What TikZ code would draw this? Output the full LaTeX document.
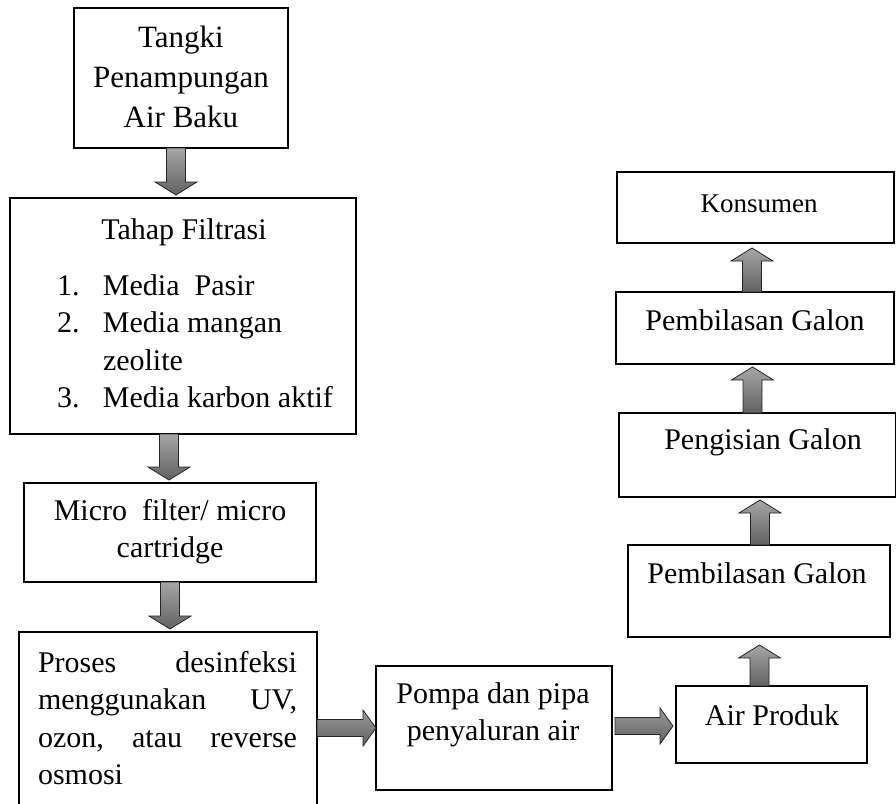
\documentclass[tikz,border=0pt]{standalone}
\usepackage{fontspec}
\setmainfont{Liberation Serif}
\usetikzlibrary{calc}
\tikzset{
  box/.style={draw=black, line width=2.4pt, rectangle, inner sep=0pt, outer sep=0pt},
  txt/.style={anchor=base, inner sep=0pt, outer sep=0pt, font=\fontsize{30}{37.5}\selectfont},
  barrow/.style={draw=black!85, line width=0.8pt, top color=black!35, bottom color=black!62},
  harrowst/.style={draw=black!85, line width=0.8pt, top color=black!40, bottom color=black!62}
}
% down arrow: start point #1, target point #2
\newcommand\arrdown[2]{\path[barrow] let \p1=(#1), \p2=(#2) in
  (\x1-9.5pt,\y1) -- (\x1-9.5pt,\y2+16pt) -- (\x1-21pt,\y2+16pt) -- (\x1,\y2+3pt)
  -- (\x1+21pt,\y2+16pt) -- (\x1+9.5pt,\y2+16pt) -- (\x1+9.5pt,\y1) -- cycle;}
\newcommand\arrup[2]{\path[barrow] let \p1=(#1), \p2=(#2) in
  (\x1-9.5pt,\y1) -- (\x1-9.5pt,\y2-16pt) -- (\x1-21pt,\y2-16pt) -- (\x1,\y2-3pt)
  -- (\x1+21pt,\y2-16pt) -- (\x1+9.5pt,\y2-16pt) -- (\x1+9.5pt,\y1) -- cycle;}
\newcommand\arrright[2]{\path[harrowst] let \p1=(#1), \p2=(#2) in
  (\x1,\y1+8.5pt) -- (\x2-13pt,\y1+8.5pt) -- (\x2-13pt,\y1+18pt) -- (\x2,\y1)
  -- (\x2-13pt,\y1-18pt) -- (\x2-13pt,\y1-8.5pt) -- (\x1,\y1-8.5pt) -- cycle;}
\begin{document}
\begin{tikzpicture}[x=1pt,y=-1pt]
\useasboundingbox (0,0) rectangle (896,803);
\clip (0,0) rectangle (896,803);
\fill[white] (0,0) rectangle (896,803);

% boxes
\node[box, minimum width=214, minimum height=140] (tangki) at (181,78) {};
\node[box, minimum width=346, minimum height=236] (filt) at (183,316) {};
\node[box, minimum width=292, minimum height=99] (micro) at (170,532.5) {};
\node[box, minimum width=298, minimum height=183] (proses) at (168,723.5) {};
\node[box, minimum width=236, minimum height=124] (pompa) at (494,728) {};
\node[box, minimum width=191, minimum height=77] (airp) at (771.5,724.5) {};
\node[box, minimum width=262, minimum height=92] (pemb2) at (759,591) {};
\node[box, minimum width=277, minimum height=84] (peng) at (757.5,455) {};
\node[box, minimum width=278, minimum height=72] (pemb1) at (755,328) {};
\node[box, minimum width=277, minimum height=71] (kons) at (755.5,207.5) {};

% texts
\node[txt, font=\fontsize{31}{40}\selectfont] (t1) at (181,47) {\parbox[t]{214pt}{\centering Tangki\\Penampungan\\Air Baku}};
\node[txt] (t2) at (184,239) {Tahap Filtrasi};
\node[txt, anchor=base west] (t2a) at (57,295) {\parbox[t]{290pt}{%
  \makebox[46pt][l]{1.}Media\ \ Pasir\\
  \makebox[46pt][l]{2.}Media mangan\\
  \makebox[46pt][l]{}zeolite\\
  \makebox[46pt][l]{3.}Media karbon aktif}};
\node[txt] (t3) at (170,520) {\parbox[t]{292pt}{\centering Micro\ \ filter/ micro\\cartridge}};
\node[txt, anchor=base west] (t4) at (38,672) {\parbox[t]{259pt}{%
  Proses\hfill desinfeksi\\
  menggunakan\hfill UV,\\
  ozon,\hfill atau\hfill reverse\\
  osmosi}};
\node[txt] (t5) at (493,703) {\parbox[t]{236pt}{\centering Pompa dan pipa\\penyaluran air}};
\node[txt] (t6) at (772,725) {Air Produk};
\node[txt] (t7) at (757,583) {Pembilasan Galon};
\node[txt] (t8) at (763,449) {Pengisian Galon};
\node[txt] (t9) at (755,330) {Pembilasan Galon};
\node[txt, font=\fontsize{27}{33}\selectfont] (t10) at (759,212) {Konsumen};

% arrows
\arrdown{$(tangki.south)+(-5,0)$}{filt.north}
\arrdown{$(filt.south)+(-14,0)$}{micro.north}
\arrdown{micro.south}{proses.north}
\arrright{proses.east |- pompa.west}{pompa.west}
\arrright{$(pompa.east)+(3,-2)$}{$(airp.west)+(-3,0)$}
\arrup{$(airp.north)+(-12,0)$}{$(pemb2.south)+(0,5)$}
\arrup{$(pemb2.north)+(1,0)$}{peng.south}
\arrup{$(peng.north)+(-5,0)$}{pemb1.south}
\arrup{$(pemb1.north)+(-3,0)$}{$(kons.south)+(0,2)$}
\end{tikzpicture}
\end{document}
